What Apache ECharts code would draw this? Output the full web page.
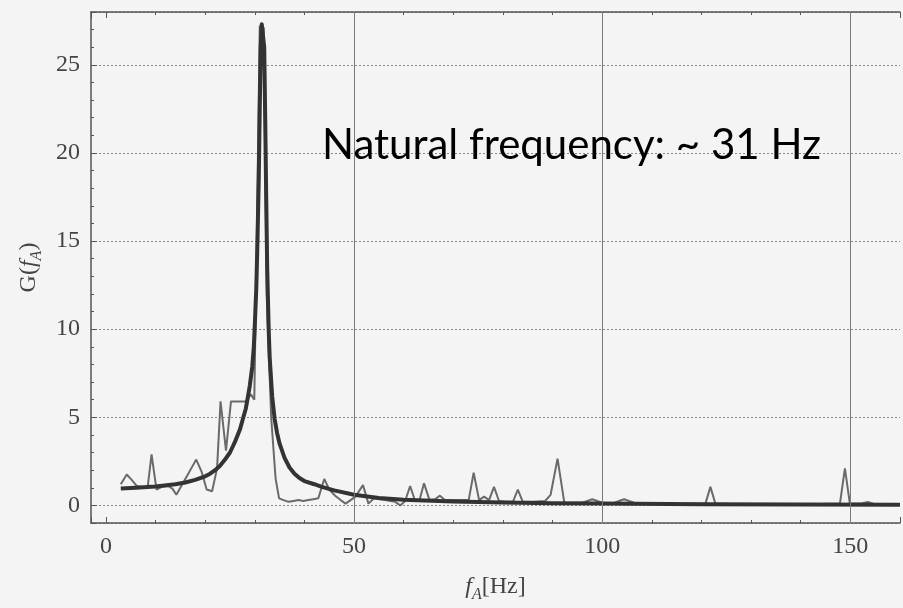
<!DOCTYPE html>
<html>
<head>
<meta charset="utf-8">
<script src="https://cdn.jsdelivr.net/npm/echarts@6/dist/echarts.min.js"></script>
<style>
html,body{margin:0;padding:0;background:#f4f4f4;}
#c{width:903px;height:608px;}
</style>
</head>
<body>
<div id="c"></div>
<script>
// Fitted resonance curve
const fitFreq = [3, 6, 10, 14, 16, 18, 20, 21, 22, 23, 24, 25, 25.5, 26, 27, 27.5, 28.2, 28.7, 29, 29.5, 29.8, 30, 30.3, 30.5, 30.8, 31, 31.2, 31.4, 31.7, 31.9, 32.1, 32.3, 32.5, 32.8, 33, 33.5, 34, 34.5, 35, 36, 37, 38, 39, 40, 42, 43.5, 46, 50, 55, 60, 70, 80, 90, 100, 120, 140, 160];
const fitGain = [0.96, 1.0, 1.07, 1.2, 1.3, 1.45, 1.65, 1.8, 2.0, 2.25, 2.6, 3.0, 3.3, 3.6, 4.3, 4.8, 5.5, 6.3, 6.8, 7.9, 9.0, 10.2, 12.3, 14.5, 18.5, 22.5, 26.0, 27.3, 27.2, 26.0, 22.0, 17.5, 13.5, 10.0, 8.4, 6.2, 4.9, 4.1, 3.5, 2.7, 2.15, 1.8, 1.55, 1.38, 1.2, 1.05, 0.85, 0.6, 0.42, 0.32, 0.22, 0.16, 0.12, 0.1, 0.07, 0.05, 0.04];

const measFreq = [3.0, 4.2, 5.2, 6.2, 7.3, 8.4, 9.2, 10.2, 11.3, 12.5, 13.4, 14.2, 15.2, 16.2, 17.2, 18.2, 19.3, 20.3, 21.4, 22.4, 23.1, 24.2, 25.2, 26.2, 27.2, 28.2, 29.2, 29.9, 30.4, 31.0, 31.8, 32.4, 33.3, 34.2, 34.9, 35.8, 36.8, 37.8, 38.8, 39.8, 40.8, 41.8, 42.8, 44.0, 45.0, 46.2, 47.3, 48.3, 49.3, 50.3, 51.8, 52.9, 54.0, 55.2, 56.3, 57.3, 58.3, 59.3, 60.3, 61.3, 62.3, 63.2, 64.1, 65.2, 66.3, 67.3, 68.3, 70.0, 72.0, 73.1, 74.1, 75.2, 76.2, 77.2, 78.2, 79.2, 80.5, 82.0, 83.0, 84.0, 86.0, 88.5, 89.6, 91.0, 92.4, 94.0, 96.0, 97.0, 98.0, 99.0, 100.5, 102.0, 103.4, 104.4, 105.4, 107.0, 110.0, 115.0, 120.8, 121.8, 122.8, 126.0, 132.0, 140.0, 147.9, 148.9, 149.9, 152.0, 153.5, 155.0, 160.0];
const measGain = [1.2, 1.75, 1.45, 1.1, 1.05, 1.0, 2.9, 0.9, 1.05, 1.1, 0.95, 0.6, 1.1, 1.6, 2.1, 2.6, 1.9, 0.9, 0.8, 2.1, 5.9, 3.1, 5.9, 5.9, 5.9, 5.9, 6.3, 6.0, 15, 27.2, 27.1, 12, 5.0, 1.5, 0.4, 0.3, 0.2, 0.25, 0.3, 0.25, 0.3, 0.35, 0.4, 1.5, 0.9, 0.55, 0.3, 0.1, 0.3, 0.5, 1.15, 0.1, 0.4, 0.35, 0.3, 0.25, 0.2, 0.0, 0.25, 1.1, 0.25, 0.3, 1.25, 0.3, 0.35, 0.55, 0.3, 0.3, 0.3, 0.3, 1.85, 0.3, 0.5, 0.3, 1.05, 0.25, 0.2, 0.2, 0.9, 0.2, 0.2, 0.25, 0.6, 2.65, 0.1, 0.15, 0.15, 0.25, 0.35, 0.25, 0.1, 0.1, 0.25, 0.35, 0.25, 0.1, 0.1, 0.08, 0.1, 1.05, 0.1, 0.08, 0.05, 0.05, 0.1, 2.1, 0.1, 0.1, 0.2, 0.05, 0.05];

const xTickLabels = [0, 50, 100, 150];
const yTickLabels = [0, 5, 10, 15, 20, 25];
const xGridValues = [50, 100, 150];
const annotation = 'Natural frequency: ~ 31 Hz';

const serif = '"Liberation Serif", "DejaVu Serif", serif';
const labelColor = '#444';
const frameColor = '#555';

const chart = echarts.init(document.getElementById('c'), null, {renderer: 'canvas'});

const commonX = {
  type: 'value', min: -3, max: 160, splitNumber: 3, minInterval: 50, maxInterval: 50,
  axisLine: {show: true, onZero: false, lineStyle: {color: frameColor, width: 1.5}},
  axisTick: {show: true, inside: true, length: 6, lineStyle: {color: frameColor}},
  minorTick: {show: true, splitNumber: 5, length: 3, lineStyle: {color: frameColor}},
  splitLine: {show: false}
};

const nameRich = {
  n: {fontFamily: serif, fontSize: 24, color: labelColor},
  i: {fontFamily: serif, fontStyle: 'italic', fontSize: 24, color: labelColor},
  s: {fontFamily: serif, fontStyle: 'italic', fontSize: 16, color: labelColor, padding: [16, 0, 0, 0]}
};

chart.setOption({
  backgroundColor: '#f4f4f4',
  animation: false,
  grid: {left: 91, right: -1, top: 12, bottom: 84, containLabel: false},
  xAxis: [
    Object.assign({}, commonX, {
      position: 'bottom',
      name: '{i|f}{s|A}{n|[Hz]}',
      nameLocation: 'middle', nameGap: 48,
      nameTextStyle: {rich: nameRich},
      axisLabel: {
        show: true, margin: 12, fontFamily: serif, fontSize: 24, color: labelColor,
        showMinLabel: true, showMaxLabel: true,
        formatter: v => xTickLabels.indexOf(v) >= 0 ? String(v) : ''
      }
    }),
    Object.assign({}, commonX, {
      position: 'top',
      axisLabel: {show: false}
    })
  ],
  yAxis: {
    type: 'value', min: -1, max: 28, splitNumber: 6, minInterval: 5, maxInterval: 5,
    position: 'left',
    name: '{n|G(}{i|f}{s|A}{n|)}',
    nameLocation: 'middle', nameGap: 38,
    nameTextStyle: {rich: nameRich},
    axisLine: {show: true, onZero: false, lineStyle: {color: frameColor, width: 1.5}},
    axisTick: {show: true, inside: true, length: 6, lineStyle: {color: frameColor}},
    minorTick: {show: true, splitNumber: 5, length: 3, lineStyle: {color: frameColor}},
    axisLabel: {
      show: true, margin: 11, fontFamily: serif, fontSize: 24, color: labelColor,
      showMinLabel: true, showMaxLabel: true,
      formatter: v => yTickLabels.indexOf(v) >= 0 ? String(v) : ''
    },
    splitLine: {show: true, lineStyle: {color: '#8a8a8a', width: 1, type: [2, 2]}}
  },
  graphic: [{
    type: 'text', left: 322, top: 124, z: 100,
    style: {text: annotation, fontFamily: 'Lato, "Open Sans", sans-serif', fontSize: 42, fill: '#000'}
  }],
  series: [
    {
      type: 'line', name: 'measured', showSymbol: false, z: 2,
      data: measFreq.map((f, i) => [f, measGain[i]]),
      lineStyle: {color: '#6a6a6a', width: 2},
      markLine: {
        silent: true, symbol: 'none', label: {show: false},
        lineStyle: {color: '#7a7a7a', width: 1, type: 'solid'},
        data: xGridValues.map(v => ({xAxis: v}))
      }
    },
    {
      type: 'line', name: 'fit', showSymbol: false, z: 3,
      data: fitFreq.map((f, i) => [f, fitGain[i]]),
      lineStyle: {color: '#333', width: 4, join: 'round'}
    }
  ]
});
</script>
</body>
</html>
